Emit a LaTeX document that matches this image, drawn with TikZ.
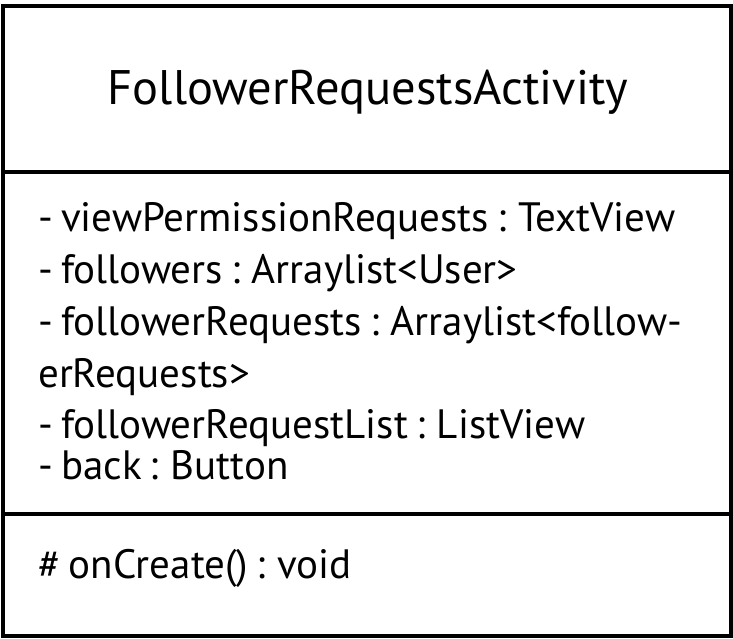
\documentclass[tikz,border=0pt]{standalone}
\usepackage{fontspec}
\setmainfont[WordSpace=0.75]{PT Sans}
\begin{document}
\begin{tikzpicture}[x=1pt,y=-1pt,
  frame/.style={line width=4pt,draw=black},
  titletext/.style={font=\fontsize{48.5}{56}\selectfont,inner sep=0pt,anchor=base},
  membertext/.style={font=\fontsize{41}{48}\selectfont,inner sep=0pt,anchor=base west}]
\useasboundingbox (0,0) rectangle (733,638);
\draw[frame] (2.5,6) rectangle (731,635.5);
\draw[frame] (2.5,172) -- (731,172);
\draw[frame] (2.5,514) -- (731,514);
\node[titletext] (title) at (368,104) {FollowerRequestsActivity};
\node[membertext] (a1) at (38,231) {- viewPermissionRequests : TextView};
\node[membertext] (a2) at (38,283) {- followers : Arraylist<User>};
\node[membertext] (a3) at (38,335) {- followerRequests : Arraylist<follow-};
\node[membertext] (a4) at (38,387) {erRequests>};
\node[membertext] (a5) at (38,438) {- followerRequestList : ListView};
\node[membertext] (a6) at (38,479) {- back : Button};
\node[membertext] (m1) at (38,578) {\# onCreate() : void};
\end{tikzpicture}
\end{document}
